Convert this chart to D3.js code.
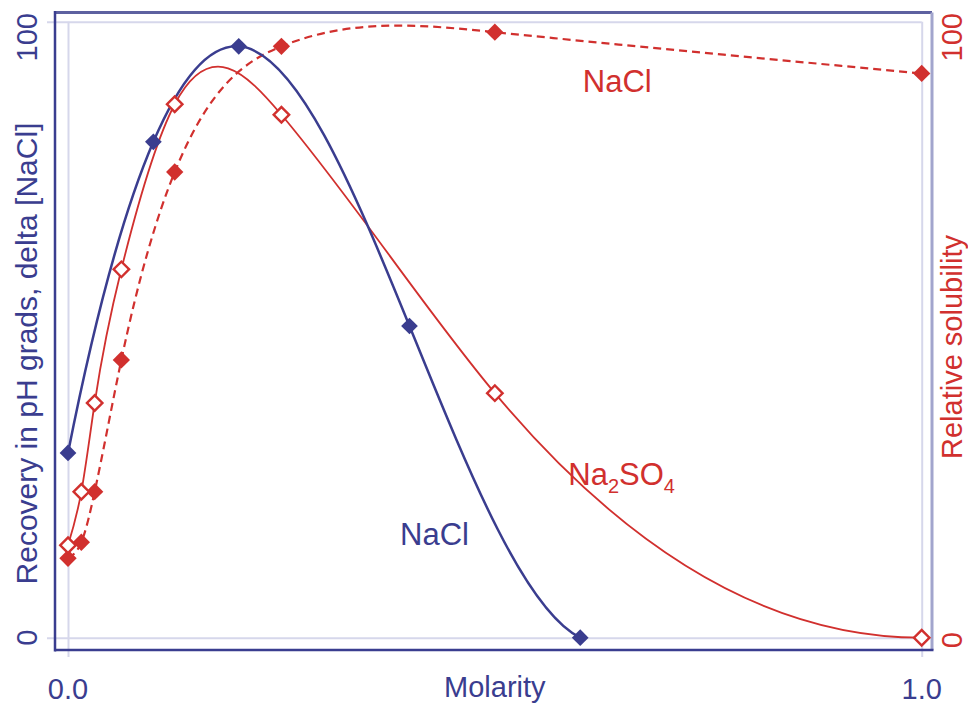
<!DOCTYPE html>
<html>
<head>
<meta charset="utf-8">
<script src="https://cdn.jsdelivr.net/npm/d3@7"></script>
<style>
  html, body { margin: 0; padding: 0; background: #ffffff; }
  svg { display: block; }
  text { font-family: "Liberation Sans", Arial, Helvetica, sans-serif; }
</style>
</head>
<body>
<svg id="chart" width="968" height="705"></svg>
<script>
// Molarity values for the two titration series
const molarityNaCl = [0, 0.1, 0.2, 0.4, 0.6];
const molaritySalt = [0, 1/64, 1/32, 1/16, 1/8, 1/4, 1/2, 1];

// Recovery in pH gradients (left axis), NaCl
const recoveryNaCl = [30.0, 80.5, 96.0, 50.6, 0];
// Relative solubility (right axis)
const solubilityNa2SO4 = [15.0, 23.7, 38.1, 59.8, 86.6, 84.9, 39.7, 0];
const solubilityNaCl = [12.9, 15.5, 23.7, 45.1, 75.6, 96.0, 98.3, 91.6];

// Axis ticks and labels
const xTicks = [0, 1];
const xTickLabels = ["0.0", "1.0"];
const yTicks = [0, 100];
const yTickLabels = ["0", "100"];

const blue = "#3a3d8f";
const red = "#d1302e";
const grid = "#d6d7eb";

// Slopes of a cubic interpolating spline y(x).
// end: "natural" (zero curvature at both ends), "flat" (natural start,
// zero slope at the last point) or "fmm" (Forsythe–Malcolm–Moler ends).
function splineSlopes(X, Y, end) {
  const n = X.length;
  if (end === "fmm" && n > 3) {
    const nm1 = n - 1;
    const b = new Array(n).fill(0), c = new Array(n).fill(0), d = new Array(n).fill(0);
    d[0] = X[1] - X[0];
    c[1] = (Y[1] - Y[0]) / d[0];
    for (let i = 1; i < nm1; i++) {
      d[i] = X[i + 1] - X[i];
      b[i] = 2 * (d[i - 1] + d[i]);
      c[i + 1] = (Y[i + 1] - Y[i]) / d[i];
      c[i] = c[i + 1] - c[i];
    }
    b[0] = -d[0];
    b[nm1] = -d[n - 2];
    c[0] = c[2] / (X[3] - X[1]) - c[1] / (X[2] - X[0]);
    c[nm1] = c[n - 2] / (X[nm1] - X[n - 3]) - c[n - 3] / (X[n - 2] - X[n - 4]);
    c[0] = c[0] * d[0] * d[0] / (X[3] - X[0]);
    c[nm1] = -c[nm1] * d[n - 2] * d[n - 2] / (X[nm1] - X[n - 4]);
    for (let i = 1; i <= nm1; i++) {
      const t = d[i - 1] / b[i - 1];
      b[i] -= t * d[i - 1];
      c[i] -= t * c[i - 1];
    }
    c[nm1] /= b[nm1];
    for (let i = n - 2; i >= 0; i--) c[i] = (c[i] - d[i] * c[i + 1]) / b[i];
    const m = new Array(n);
    m[nm1] = (Y[nm1] - Y[n - 2]) / d[n - 2] + d[n - 2] * (c[n - 2] + 2 * c[nm1]);
    for (let i = 0; i < nm1; i++) m[i] = (Y[i + 1] - Y[i]) / d[i] - d[i] * (c[i + 1] + 2 * c[i]);
    return m;
  }
  const h = [], s = [];
  for (let i = 0; i < n - 1; i++) {
    h[i] = X[i + 1] - X[i];
    s[i] = (Y[i + 1] - Y[i]) / h[i];
  }
  const a = new Array(n).fill(0), b = new Array(n).fill(0),
        c = new Array(n).fill(0), r = new Array(n).fill(0);
  b[0] = 2; c[0] = 1; r[0] = 3 * s[0];
  for (let i = 1; i < n - 1; i++) {
    a[i] = h[i];
    b[i] = 2 * (h[i - 1] + h[i]);
    c[i] = h[i - 1];
    r[i] = 3 * (h[i] * s[i - 1] + h[i - 1] * s[i]);
  }
  if (end === "flat") { a[n - 1] = 0; b[n - 1] = 1; r[n - 1] = 0; }
  else { a[n - 1] = 1; b[n - 1] = 2; r[n - 1] = 3 * s[n - 2]; }
  for (let i = 1; i < n; i++) {
    const w = a[i] / b[i - 1];
    b[i] -= w * c[i - 1];
    r[i] -= w * r[i - 1];
  }
  const m = new Array(n);
  m[n - 1] = r[n - 1] / b[n - 1];
  for (let i = n - 2; i >= 0; i--) m[i] = (r[i] - c[i] * m[i + 1]) / b[i];
  return m;
}

// d3 curve factory: spline through the points as a function of x,
// one Bézier segment per interval.
function curveSplineX(end) {
  return function (context) {
    let pts;
    return {
      areaStart() {}, areaEnd() {},
      lineStart() { pts = []; },
      point(px, py) { pts.push([+px, +py]); },
      lineEnd() {
        const n = pts.length;
        if (!n) return;
        const X = pts.map(p => p[0]), Y = pts.map(p => p[1]);
        context.moveTo(X[0], Y[0]);
        if (n < 3) { if (n === 2) context.lineTo(X[1], Y[1]); return; }
        const m = splineSlopes(X, Y, end);
        for (let i = 0; i < n - 1; i++) {
          const h = X[i + 1] - X[i];
          context.bezierCurveTo(
            X[i] + h / 3, Y[i] + m[i] * h / 3,
            X[i + 1] - h / 3, Y[i + 1] - m[i + 1] * h / 3,
            X[i + 1], Y[i + 1]);
        }
      }
    };
  };
}

const svg = d3.select("#chart");

// Frame of the plotting region and the data range inside it
const box = { left: 55, right: 932, top: 12.5, bottom: 650 };
const x = d3.scaleLinear().domain([0, 1]).range([68, 921.7]);
const yL = d3.scaleLinear().domain([0, 100]).range([637.7, 21.7]);
const yR = d3.scaleLinear().domain([0, 100]).range([637.7, 21.7]);

// Light reference lines at the ends of each axis (these double as tick marks)
const gx = svg.append("g")
  .attr("transform", `translate(0,${yL(100)})`)
  .call(d3.axisBottom(x).tickValues(xTicks).tickSize(657 - yL(100)).tickFormat(""));
gx.select(".domain").remove();
gx.selectAll(".tick line").attr("stroke", grid).attr("stroke-width", 2);

const gy = svg.append("g")
  .attr("transform", `translate(${x(1)},0)`)
  .call(d3.axisLeft(yL).tickValues(yTicks).tickSize(x(1) - 47).tickFormat(""));
gy.select(".domain").remove();
gy.selectAll(".tick line").attr("stroke", grid).attr("stroke-width", 2);

// Frame
svg.append("line").attr("x1", box.left).attr("x2", box.right).attr("y1", box.top).attr("y2", box.top)
  .attr("stroke", "#5d61a0").attr("stroke-width", 3);
svg.append("line").attr("x1", box.right).attr("x2", box.right).attr("y1", box.top).attr("y2", box.bottom)
  .attr("stroke", "#a2a5cd").attr("stroke-width", 3);
svg.append("line").attr("x1", box.left).attr("x2", box.left).attr("y1", box.top - 1.5).attr("y2", box.bottom + 1.5)
  .attr("stroke", blue).attr("stroke-width", 2.5);
svg.append("line").attr("x1", box.left).attr("x2", box.right + 1.5).attr("y1", box.bottom).attr("y2", box.bottom)
  .attr("stroke", blue).attr("stroke-width", 2.5);

// Tick labels
const tickFont = 29;
xTicks.forEach((t, i) => {
  svg.append("text").attr("x", x(t)).attr("y", 699)
    .attr("text-anchor", "middle").attr("font-size", tickFont).attr("fill", blue)
    .text(xTickLabels[i]);
});
yTicks.forEach((t, i) => {
  const top = t === 100;
  const yy = top ? 13 : yL(t);
  svg.append("text")
    .attr("transform", `translate(37,${yy}) rotate(-90)`)
    .attr("text-anchor", top ? "end" : "middle")
    .attr("font-size", tickFont).attr("fill", blue)
    .text(yTickLabels[i]);
  const yy2 = top ? 13 : yR(t) + 2.5;
  svg.append("text")
    .attr("transform", `translate(962,${yy2}) rotate(-90)`)
    .attr("text-anchor", top ? "end" : "middle")
    .attr("font-size", tickFont).attr("fill", red)
    .text(yTickLabels[i]);
});

// Axis titles
svg.append("text").attr("x", x(0.5)).attr("y", 697)
  .attr("text-anchor", "middle").attr("font-size", tickFont).attr("fill", blue)
  .text("Molarity");
svg.append("text")
  .attr("transform", `translate(37,353.5) rotate(-90)`)
  .attr("text-anchor", "middle").attr("font-size", 30).attr("fill", blue)
  .text("Recovery in pH grads, delta [NaCl]");
svg.append("text")
  .attr("transform", `translate(962,347) rotate(-90)`)
  .attr("text-anchor", "middle").attr("font-size", 29).attr("fill", red)
  .text("Relative solubility");

// Curves
const lineRecovery = d3.line().x(d => x(d[0])).y(d => yL(d[1])).curve(curveSplineX("fmm"));
const lineSolNaCl = d3.line().x(d => x(d[0])).y(d => yR(d[1])).curve(curveSplineX("natural"));
const lineNa2SO4 = d3.line().x(d => x(d[0])).y(d => yR(d[1])).curve(curveSplineX("flat"));

const ptsRecovery = molarityNaCl.map((m, i) => [m, recoveryNaCl[i]]);
const ptsNa2SO4 = molaritySalt.map((m, i) => [m, solubilityNa2SO4[i]]);
const ptsSolNaCl = molaritySalt.map((m, i) => [m, solubilityNaCl[i]]);

svg.append("path").attr("d", lineSolNaCl(ptsSolNaCl)).attr("fill", "none")
  .attr("stroke", red).attr("stroke-width", 2.2).attr("stroke-dasharray", "8,5");
svg.append("path").attr("d", lineNa2SO4(ptsNa2SO4)).attr("fill", "none")
  .attr("stroke", red).attr("stroke-width", 1.8);
svg.append("path").attr("d", lineRecovery(ptsRecovery)).attr("fill", "none")
  .attr("stroke", blue).attr("stroke-width", 2.5);

// Diamond markers
const diamond = d3.symbol().type(d3.symbolSquare);
svg.append("g").selectAll("path").data(ptsSolNaCl).join("path")
  .attr("transform", d => `translate(${x(d[0])},${yR(d[1])}) rotate(45)`)
  .attr("d", diamond.size(150)()).attr("fill", red);
svg.append("g").selectAll("path").data(ptsNa2SO4).join("path")
  .attr("transform", d => `translate(${x(d[0])},${yR(d[1])}) rotate(45)`)
  .attr("d", diamond.size(120)()).attr("fill", "#ffffff")
  .attr("stroke", red).attr("stroke-width", 2.4);
svg.append("g").selectAll("path").data(ptsRecovery).join("path")
  .attr("transform", d => `translate(${x(d[0])},${yL(d[1])}) rotate(45)`)
  .attr("d", diamond.size(140)()).attr("fill", blue);

// Series labels
svg.append("text").attr("x", x(0.603)).attr("y", yR(88.6))
  .attr("font-size", 31).attr("fill", red).text("NaCl");
svg.append("text").attr("x", x(0.389)).attr("y", yL(15.0))
  .attr("font-size", 31).attr("fill", blue).text("NaCl");
const salt = svg.append("text").attr("x", x(0.586)).attr("y", yR(24.8))
  .attr("font-size", 31).attr("fill", red);
salt.append("tspan").text("Na");
salt.append("tspan").attr("font-size", 20).attr("dy", 8).text("2");
salt.append("tspan").attr("dy", -8).text("SO");
salt.append("tspan").attr("font-size", 20).attr("dy", 8).text("4");
</script>
</body>
</html>
